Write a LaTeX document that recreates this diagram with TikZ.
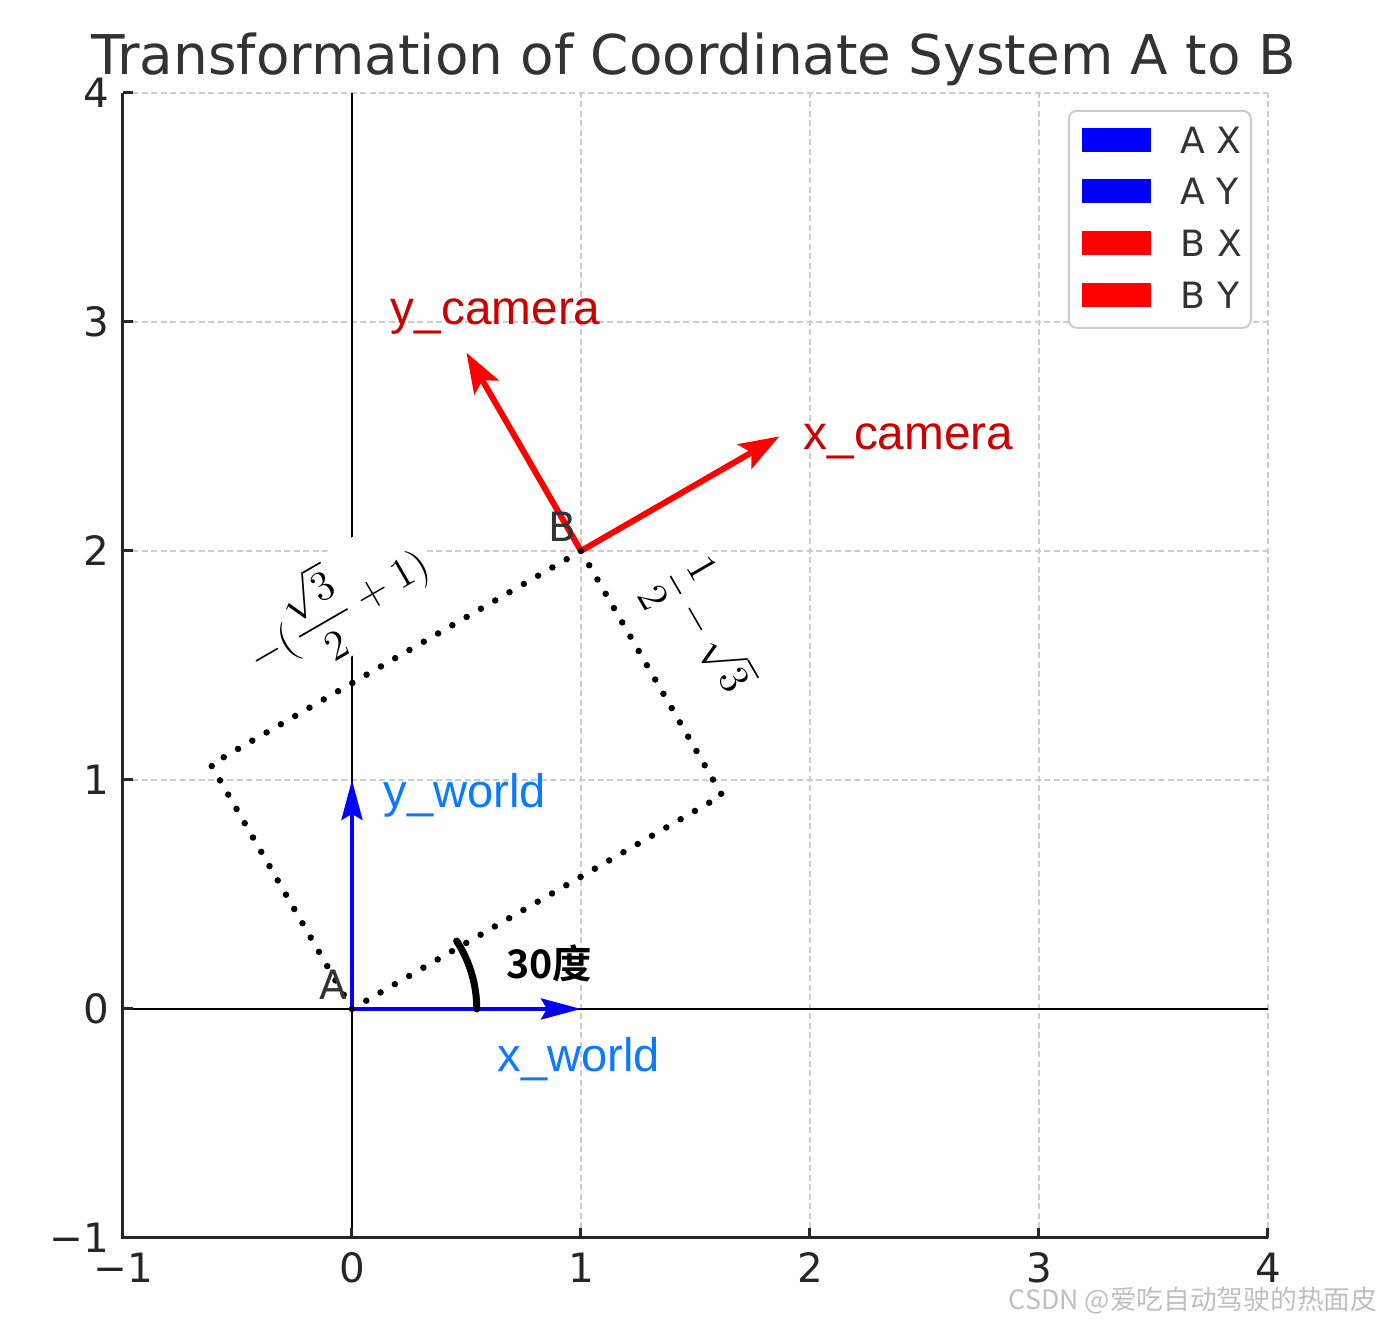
\documentclass[tikz,border=0pt]{standalone}
\usepackage{amsmath}
\usepackage{fontspec}
\setmainfont{DejaVu Sans}
\newfontfamily\labfont{Liberation Sans}
\newfontfamily\cjkfont{Noto Sans CJK SC}[BoldFont={Noto Sans CJK SC Bold}]
\usetikzlibrary{arrows.meta}
\definecolor{camred}{RGB}{204,0,0}
\definecolor{worldblue}{RGB}{10,122,255}
\definecolor{gridgray}{RGB}{204,204,204}
\definecolor{textgray}{RGB}{51,51,51}

\begin{document}
\begin{tikzpicture}[x=2.29cm,y=2.29cm,
	gridline/.style={gridgray,line width=0.012cm,dash pattern=on 0.06cm off 0.035cm},
	spine/.style={black!85,line width=0.03cm},
	ticklab/.style={black!85,font=\fontsize{11.5}{12}\selectfont,inner sep=0pt},
	bluearrow/.style={blue,line width=0.04cm,-{Stealth[length=0.4cm,width=0.21cm,inset=0.06cm]}},
	redarrow/.style={red,line width=0.06cm,-{Stealth[length=0.4cm,width=0.28cm,inset=0.08cm]}},
	dotline/.style={black,line width=0.065cm,line cap=round,dash pattern=on 0pt off 0.165cm},
	camlab/.style={camred,font=\labfont\fontsize{13.6}{14}\selectfont,inner sep=0pt,anchor=base west},
	worldlab/.style={worldblue,font=\labfont\fontsize{13.4}{14}\selectfont,inner sep=0pt,anchor=base west},
	pointlab/.style={textgray,font=\fontsize{11.5}{12}\selectfont,inner sep=0pt,anchor=south east},
	mathlab/.style={font=\fontsize{12.5}{14}\selectfont,fill=white,inner sep=1pt},
	legpatch/.style={minimum width=0.69cm,minimum height=0.24cm,inner sep=0pt},
	legtext/.style={textgray,font=\fontsize{10.3}{11}\selectfont,inner sep=0pt,anchor=west}]
	\useasboundingbox (-1.537,-1.367) rectangle (4.498,4.406);
	\foreach \g in {0,...,4} {
		\draw [gridline] (\g,-1) -- (\g,4);
		\draw [gridline] (-1,\g) -- (4,\g);
	}
	\draw [black,line width=0.015cm] (-1,0) -- (4,0);
	\draw [black,line width=0.015cm] (0,-1) -- (0,4);
	\draw [spine] (-1,4) -- (-1,-1) -- (4,-1);
	\foreach \t/\s in {-1/−1,0/0,1/1,2/2,3/3,4/4} {
		\draw [spine] (\t,-1) -- ++(0,0.1cm);
		\draw [spine] (-1,\t) -- ++(0.1cm,0);
		\node [ticklab,anchor=north] (xt\t) at ([yshift=-0.14cm]\t,-1) {\s};
		\node [ticklab,anchor=east] (yt\t) at ([xshift=-0.13cm]-1,\t) {\s};
	}
	\node [textgray,font=\fontsize{15.6}{16}\selectfont,inner sep=0pt,anchor=base] (title) at (1.493,4.079) {Transformation of Coordinate System A to B};
	\coordinate (A) at (0,0);
	\coordinate (B) at (1,2);
	\coordinate (C) at (1.616,0.933);
	\coordinate (D) at (-0.616,1.067);
	\coordinate (AX) at (1,0);
	\coordinate (AY) at (0,1);
	\coordinate (BX) at (1.866,2.5);
	\coordinate (BY) at (0.5,2.866);
	\node [mathlab,rotate=30] (sidea) at (-0.07,1.76) {$-(\dfrac{\sqrt{3}}{2}+1)$};
	\node [mathlab,rotate=-60] (sideb) at (1.541,1.655) {$\dfrac{1}{2}-\sqrt{3}$};
	\draw [bluearrow] (A) -- (AX);
	\draw [bluearrow] (A) -- (AY);
	\draw [redarrow] (B) -- (BX);
	\draw [redarrow] (B) -- (BY);
	\draw [dotline] (A) -- (C) -- (B) -- (D) -- cycle;
	\draw [black,line width=0.07cm,line cap=round] (0.545,0) arc[start angle=0,end angle=33,radius=0.545];
	\node [font=\cjkfont\bfseries\fontsize{11.2}{12}\selectfont,inner sep=0pt] (angle) at (0.86,0.201) {30度};
	\node [pointlab] (alab) at ([xshift=-0.04cm,yshift=0.09cm]A) {A};
	\node [pointlab] (blab) at ([xshift=-0.04cm,yshift=0.09cm]B) {B};
	\node [camlab] (ycam) at (0.166,2.991) {y\_camera};
	\node [camlab] (xcam) at (1.969,2.441) {x\_camera};
	\node [worldlab] (yworld) at (0.135,0.878) {y\_world};
	\node [worldlab] (xworld) at (0.633,-0.271) {x\_world};
	\node [draw=gridgray,line width=0.02cm,rounded corners=0.08cm,fill=white,minimum width=1.82cm,minimum height=2.17cm] (legend) at (3.528,3.448) {};
	\foreach \n/\c/\l/\y in {ax/blue/A X/3.795,ay/blue/A Y/3.57,bx/red/B X/3.345,by/red/B Y/3.118} {
		\node [legpatch,fill=\c] (p\n) at (3.338,\y) {};
		\node [legtext] (t\n) at (3.616,\y) {\l};
	}
	\node [black!25,font=\cjkfont\fontsize{7.6}{8}\selectfont,inner sep=0pt,anchor=east] (mark) at (4.48,-1.272) {CSDN @爱吃自动驾驶的热面皮};
\end{tikzpicture}
\end{document}
